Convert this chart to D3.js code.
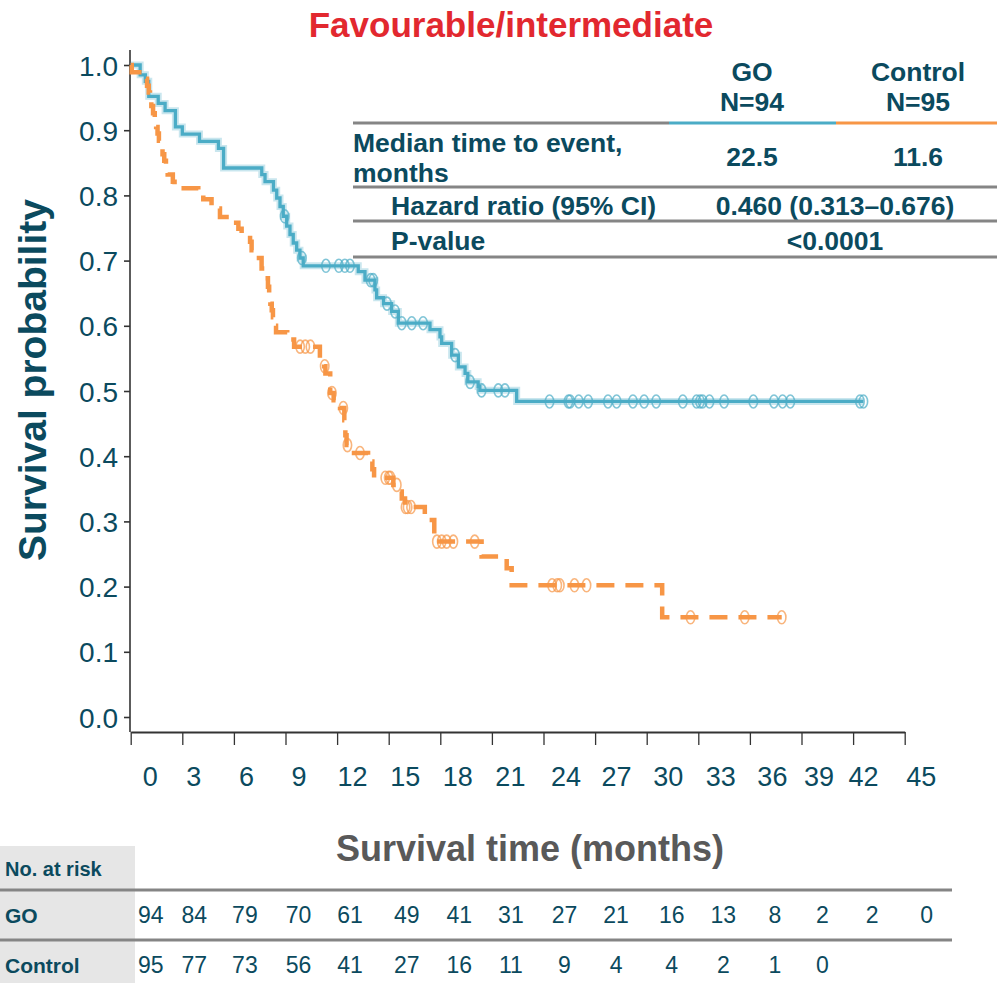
<!DOCTYPE html>
<html>
<head>
<meta charset="utf-8">
<script src="https://cdn.jsdelivr.net/npm/d3@7"></script>
<style>
  body { margin: 0; background: #fff; }
  svg { display: block; font-family: "Liberation Sans", Arial, sans-serif; }
</style>
</head>
<body>
<svg id="chart" width="997" height="983"></svg>
<script>
// ---- Kaplan–Meier data (months, survival probability after each event) ----
const months = d3.range(0, 46, 3);

const goEventTimes = [0.55, 0.85, 1.05, 1.6, 2.0, 2.6, 3.0, 4.0, 5.1, 5.4,
  7.62, 7.81, 8.3, 8.49, 8.68, 8.87, 9.07, 9.26, 9.45, 9.65, 9.84, 10.03,
  13.23, 13.62, 14.2, 14.3, 14.7, 15.17, 15.56, 17.4, 17.98, 18.08, 18.66,
  19.05, 19.44, 19.6, 20.2, 20.3, 22.44];
const goSurvival = [0.985, 0.975, 0.952, 0.941, 0.930, 0.905, 0.894, 0.883, 0.872, 0.842,
  0.832, 0.821, 0.808, 0.796, 0.783, 0.768, 0.753, 0.740, 0.727, 0.716, 0.704, 0.692,
  0.683, 0.670, 0.655, 0.643, 0.634, 0.622, 0.604, 0.594, 0.583, 0.573, 0.555,
  0.537, 0.527, 0.514, 0.507, 0.501, 0.484];
const goCensorTimes = [8.95, 9.95, 11.35, 12.1, 12.45, 12.75, 13.95, 14.1, 14.9, 15.37,
  15.76, 16.34, 17.0, 18.86, 19.73, 20.4, 21.37, 21.76, 24.35, 25.45, 25.55, 26.05,
  26.6, 27.75, 28.25, 29.2, 29.85, 30.55, 32.1, 32.9, 33.1, 33.25, 33.65, 34.5,
  36.2, 37.4, 37.9, 38.35, 42.4, 42.6];

const controlEventTimes = [0.06, 0.75, 0.95, 1.05, 1.12, 1.2, 1.3, 1.4, 1.48, 1.56,
  1.64, 1.72, 1.85, 1.95, 2.05, 2.15, 2.45, 2.55, 3.93, 4.22, 4.7, 5.19, 5.97, 6.26,
  6.45, 6.94, 7.03, 7.23, 7.61, 7.8, 7.98, 8.05, 8.12, 8.2, 8.27, 8.33, 8.45, 9.1,
  9.5, 11.0, 11.25, 11.32, 11.6, 11.8, 12.17, 12.42, 12.48, 12.55, 12.75, 13.8,
  14.05, 14.15, 15.27, 15.5, 15.76, 15.95, 17.1, 17.65, 20.4, 21.86, 22.15, 30.9];
const controlSurvival = [0.989, 0.979, 0.968, 0.958, 0.947, 0.937, 0.926, 0.916, 0.905, 0.895,
  0.884, 0.874, 0.863, 0.853, 0.842, 0.832, 0.821, 0.811, 0.803, 0.794, 0.780, 0.767, 0.758, 0.749,
  0.739, 0.729, 0.716, 0.704, 0.688, 0.673, 0.660, 0.645, 0.634, 0.624, 0.613, 0.600, 0.590, 0.579,
  0.568, 0.548, 0.538, 0.527, 0.497, 0.486, 0.474, 0.455, 0.432, 0.417, 0.405, 0.392,
  0.380, 0.367, 0.356, 0.346, 0.335, 0.322, 0.302, 0.269, 0.246, 0.228, 0.202, 0.153];
const controlCensorTimes = [9.85, 10.15, 10.45, 11.28, 11.7, 12.36, 12.6, 13.33, 14.8, 15.0,
  15.1, 15.47, 15.98, 16.1, 16.3, 17.8, 18.08, 18.37, 18.76, 20.0, 24.5, 24.8,
  24.95, 25.8, 26.5, 32.55, 35.7, 37.85];

// ---- Number at risk ----
const goAtRisk = [94, 84, 79, 70, 61, 49, 41, 31, 27, 21, 16, 13, 8, 2, 2, 0];
const controlAtRisk = [95, 77, 73, 56, 41, 27, 16, 11, 9, 4, 4, 2, 1, 0];

// ---- Summary table ----
const armNames = ["GO", "Control"];
const armN = [94, 95];
const medianMonths = ["22.5", "11.6"];
const hazardRatio = "0.460 (0.313–0.676)";
const pValue = "<0.0001";

// ---- Styling ----
const ink = "#0b4a5e";
const goColor = "#4bacc6";
const ctrlColor = "#f79646";
const ruleGray = "#858585";

const svg = d3.select("#chart");
svg.append("rect").attr("width", 997).attr("height", 983).attr("fill", "#fff");

const x = d3.scaleLinear().domain([0, 45]).range([130.7, 904.7]);
const y = d3.scaleLinear().domain([0, 1]).range([717, 65]);

// horizontal nudges of the month labels / risk counts relative to their tick
const tickLabelShift = [19, 11, 12, 13, 15, 16, 17, 18, 22, 21, 21, 22, 22, 17, 10, 16];
const riskShift = [20, 12, 11, 13, 13, 18, 19, 19, 21, 21, 25, 25, 25, 21, 19, 22];

// ---- Title ----
svg.append("text")
  .attr("x", 511).attr("y", 37)
  .attr("text-anchor", "middle")
  .attr("font-size", 35).attr("font-weight", "bold")
  .attr("fill", "#e2282f")
  .text("Favourable/intermediate");

// ---- Axes ----
const axisColor = "#333";
svg.append("line")
  .attr("x1", 130).attr("x2", 130)
  .attr("y1", y(1) - 15).attr("y2", 732)
  .attr("stroke", axisColor).attr("stroke-width", 1.6);

const gy = svg.append("g").attr("transform", "translate(130,0)")
  .call(d3.axisLeft(y)
    .tickValues(d3.range(0, 11).map(i => i / 10))
    .tickFormat(d3.format(".1f"))
    .tickSize(6).tickPadding(6));
gy.select(".domain").remove();
gy.attr("color", axisColor).attr("font-family", null).attr("font-size", 28);
gy.selectAll(".tick line").attr("stroke-width", 1.6);
gy.selectAll(".tick text").attr("fill", ink).attr("dy", "0.36em");

const gx = svg.append("g").attr("transform", "translate(0,732)")
  .call(d3.axisBottom(x).tickValues(months).tickFormat(d => d).tickSize(13).tickSizeOuter(0));
gx.attr("color", axisColor).attr("font-family", null).attr("font-size", 27);
gx.select(".domain").attr("stroke-width", 2);
gx.selectAll(".tick line").attr("stroke-width", 1.3);
gx.selectAll(".tick text")
  .attr("fill", ink)
  .attr("x", (d, i) => tickLabelShift[i])
  .attr("y", 54).attr("dy", null);

svg.append("text")
  .attr("transform", "translate(46,380) rotate(-90)")
  .attr("text-anchor", "middle")
  .attr("font-size", 39).attr("font-weight", "bold")
  .attr("fill", ink)
  .text("Survival probability");

svg.append("text")
  .attr("x", 530).attr("y", 861)
  .attr("text-anchor", "middle")
  .attr("font-size", 36).attr("font-weight", "bold")
  .attr("fill", "#595959")
  .text("Survival time (months)");

// ---- Survival curves ----
function stepPoints(times, surv, end) {
  const pts = [[0, 1]];
  times.forEach((t, i) => pts.push([t, surv[i]]));
  pts.push([end, surv[surv.length - 1]]);
  return pts;
}
function survivalAt(times, surv, t) {
  let s = 1;
  times.forEach((tt, i) => { if (tt <= t) s = surv[i]; });
  return s;
}
const stepLine = d3.line().x(d => x(d[0])).y(d => y(d[1])).curve(d3.curveStepAfter);

const goPts = stepPoints(goEventTimes, goSurvival, d3.max(goCensorTimes));
const ctrlPts = stepPoints(controlEventTimes, controlSurvival, d3.max(controlCensorTimes));

const curves = svg.append("g");
curves.append("path").datum(goPts).attr("d", stepLine)
  .attr("fill", "none").attr("stroke", goColor).attr("stroke-opacity", 0.3)
  .attr("stroke-width", 7);
curves.append("path").datum(goPts).attr("d", stepLine)
  .attr("fill", "none").attr("stroke", goColor).attr("stroke-width", 3.3);

curves.append("path").datum(ctrlPts).attr("d", stepLine)
  .attr("fill", "none").attr("stroke", ctrlColor).attr("stroke-width", 4.5)
  .attr("stroke-dasharray", "18 11");

function censorMarks(times, evTimes, surv, color) {
  curves.append("g").selectAll("ellipse").data(times).join("ellipse")
    .attr("cx", d => x(d))
    .attr("cy", d => y(survivalAt(evTimes, surv, d)))
    .attr("rx", 4.2).attr("ry", 6.5)
    .attr("fill", "none")
    .attr("stroke", color).attr("stroke-width", 1.6).attr("stroke-opacity", 0.7);
}
censorMarks(goCensorTimes, goEventTimes, goSurvival, goColor);
censorMarks(controlCensorTimes, controlEventTimes, controlSurvival, ctrlColor);

// ---- Summary table ----
const tbl = svg.append("g").attr("font-size", 26.5).attr("font-weight", "bold").attr("fill", ink);
const colX = [752, 918];
armNames.forEach((name, i) => {
  tbl.append("text").attr("x", colX[i]).attr("y", 81).attr("text-anchor", "middle").text(name);
  tbl.append("text").attr("x", colX[i]).attr("y", 111).attr("text-anchor", "middle").text("N=" + armN[i]);
  tbl.append("text").attr("x", colX[i]).attr("y", 166).attr("text-anchor", "middle").text(medianMonths[i]);
});
tbl.append("text").attr("x", 353).attr("y", 152).text("Median time to event,");
tbl.append("text").attr("x", 353).attr("y", 182).text("months");
tbl.append("text").attr("x", 391).attr("y", 215).text("Hazard ratio (95% CI)");
tbl.append("text").attr("x", 835).attr("y", 215).attr("text-anchor", "middle").text(hazardRatio);
tbl.append("text").attr("x", 391).attr("y", 250).text("P-value");
tbl.append("text").attr("x", 835).attr("y", 250).attr("text-anchor", "middle").text(pValue);

const rule = (x1, x2, yy, c) => svg.append("line")
  .attr("x1", x1).attr("x2", x2).attr("y1", yy).attr("y2", yy)
  .attr("stroke", c).attr("stroke-width", 3);
rule(353, 669, 123, ruleGray);
rule(669, 836, 123, goColor);
rule(836, 997, 123, ctrlColor);
rule(353, 997, 187, ruleGray);
rule(353, 997, 221, ruleGray);
rule(353, 997, 257, ruleGray);

// ---- Number at risk table ----
svg.append("rect").attr("x", 0).attr("y", 846).attr("width", 135).attr("height", 137)
  .attr("fill", "#e6e6e6");
rule(0, 952, 890, ruleGray);
rule(0, 952, 940, ruleGray);

const risk = svg.append("g").attr("fill", ink);
risk.append("text").attr("x", 5).attr("y", 876).attr("font-size", 20).attr("font-weight", "bold").text("No. at risk");
risk.append("text").attr("x", 5).attr("y", 923).attr("font-size", 21).attr("font-weight", "bold").text(armNames[0]);
risk.append("text").attr("x", 5).attr("y", 973).attr("font-size", 21).attr("font-weight", "bold").text(armNames[1]);

[[goAtRisk, 923], [controlAtRisk, 973]].forEach(([counts, yy]) => {
  risk.append("g").selectAll("text").data(counts).join("text")
    .attr("x", (d, i) => x(months[i]) + riskShift[i])
    .attr("y", yy)
    .attr("text-anchor", "middle")
    .attr("font-size", 23)
    .text(d => d);
});
</script>
</body>
</html>
